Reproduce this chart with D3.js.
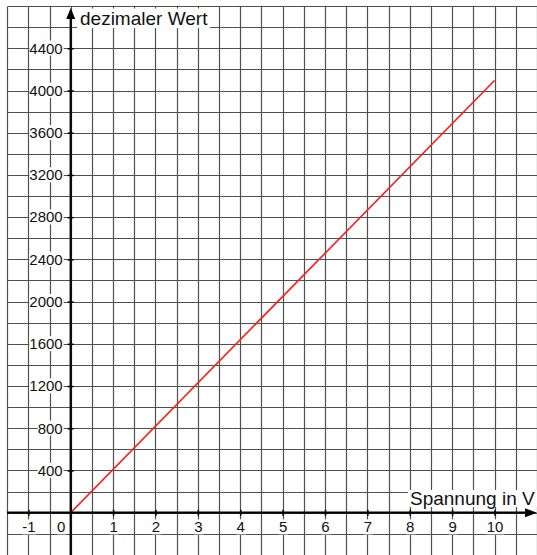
<!DOCTYPE html>
<html><head><meta charset="utf-8">
<script src="https://cdn.jsdelivr.net/npm/d3@7"></script>
<style>body{margin:0;background:#fff}svg{display:block}</style>
</head><body>
<script>
const xTicks = [-1,0,1,2,3,4,5,6,7,8,9,10];
const yTicks = [400,800,1200,1600,2000,2400,2800,3200,3600,4000,4400];
const voltage = [0, 10];
const decimalValue = [0, 4095];
const xTitle = "Spannung in V";
const yTitle = "dezimaler Wert";

const W = 537, H = 555;
const svg = d3.select("body").append("svg").attr("width", W).attr("height", H);
const x = d3.scaleLinear().domain([0, 10]).range([70.7, 494.5]);
const y = d3.scaleLinear().domain([0, 4000]).range([512.7, 90.5]);

const font = "Liberation Sans, Arial, sans-serif";
// grid
const gx = d3.range(-1.5, 11.01, 0.5), gy = d3.range(-400, 4801, 200);
const grid = svg.append("g").attr("stroke", "#505050").attr("stroke-width", 1.2);
grid.selectAll(".v").data(gx).join("line")
  .attr("x1", d => Math.round(x(d)) + 0.5).attr("x2", d => Math.round(x(d)) + 0.5)
  .attr("y1", Math.round(y(4800)) + 0.5).attr("y2", H);
grid.selectAll(".h").data(gy).join("line")
  .attr("y1", d => Math.round(y(d)) + 0.5).attr("y2", d => Math.round(y(d)) + 0.5)
  .attr("x1", Math.round(x(-1.5)) + 0.5).attr("x2", W);

// data line
const pts = voltage.map((v, i) => [v, decimalValue[i]]);
svg.append("path").datum(pts)
  .attr("d", d3.line().x(d => x(d[0])).y(d => y(d[1])))
  .attr("fill", "none").attr("stroke", "#ff1a1a").attr("stroke-width", 1.6);

// axes lines
const ox = x(0), oy = y(0);
svg.append("line").attr("x1", x(-1.5)).attr("x2", W - 10).attr("y1", oy).attr("y2", oy)
  .attr("stroke", "#000").attr("stroke-width", 2.2);
svg.append("line").attr("x1", ox).attr("x2", ox).attr("y1", H).attr("y2", 17)
  .attr("stroke", "#000").attr("stroke-width", 2.2);
svg.append("path").attr("d", `M${W},${oy} L${W-12},${oy-4.5} L${W-12},${oy+4.5} Z`).attr("fill", "#000");
svg.append("path").attr("d", `M${ox},8 L${ox-4.5},19 L${ox+4.5},19 Z`).attr("fill", "#000");

// y axis ticks & labels
const yAxis = d3.axisLeft(y).tickValues(yTicks).tickSize(3).tickPadding(4).tickFormat(d => String(d));
const ya = svg.append("g").attr("transform", `translate(${ox},0)`).call(yAxis);
ya.select(".domain").remove();
ya.selectAll(".tick line").attr("x2", 3).attr("x1", -3).attr("stroke", "#000").attr("stroke-width", 1.5);
ya.selectAll(".tick text").attr("font-family", font).attr("font-size", 15).attr("fill", "#111").attr("x", -8);

// x axis
const xAxis = d3.axisBottom(x).tickValues(xTicks).tickSize(3).tickPadding(6).tickFormat(d => String(d));
const xa = svg.append("g").attr("transform", `translate(0,${oy})`).call(xAxis);
xa.select(".domain").remove();
xa.selectAll(".tick line").attr("y1", -3).attr("y2", 3).attr("stroke", "#000").attr("stroke-width", 1.5)
  .filter(d => d === 0).remove();
xa.selectAll(".tick text").attr("font-family", font).attr("font-size", 15).attr("fill", "#111").attr("y", 9);
xa.selectAll(".tick").filter(d => d === 0).select("text").attr("x", -10);

// white backgrounds behind labels
function backdrop(sel, pad) {
  sel.each(function () {
    const b = this.getBBox();
    d3.select(this.parentNode).insert("rect", "text")
      .attr("x", b.x).attr("y", b.y + 1)
      .attr("width", b.width + pad).attr("height", b.height - 2).attr("fill", "#fff");
  });
}
backdrop(ya.selectAll(".tick text"), 1);
backdrop(xa.selectAll(".tick text"), 1);

// titles
const yt = svg.append("text").attr("x", 80).attr("y", 25).attr("font-family", font)
  .attr("font-size", 19).attr("fill", "#111").text(yTitle);
let b = yt.node().getBBox();
svg.insert("rect", () => yt.node()).attr("x", b.x - 3).attr("y", 8.5).attr("width", b.width + 5).attr("height", 19.5).attr("fill", "#fff");
const xt = svg.append("text").attr("x", 410).attr("y", 505).attr("font-family", font)
  .attr("font-size", 19).attr("fill", "#111").text(xTitle);
b = xt.node().getBBox();
svg.insert("rect", () => xt.node()).attr("x", b.x - 2).attr("y", b.y + 2).attr("width", b.width + 4).attr("height", b.height - 4).attr("fill", "#fff");
</script>
</body></html>
